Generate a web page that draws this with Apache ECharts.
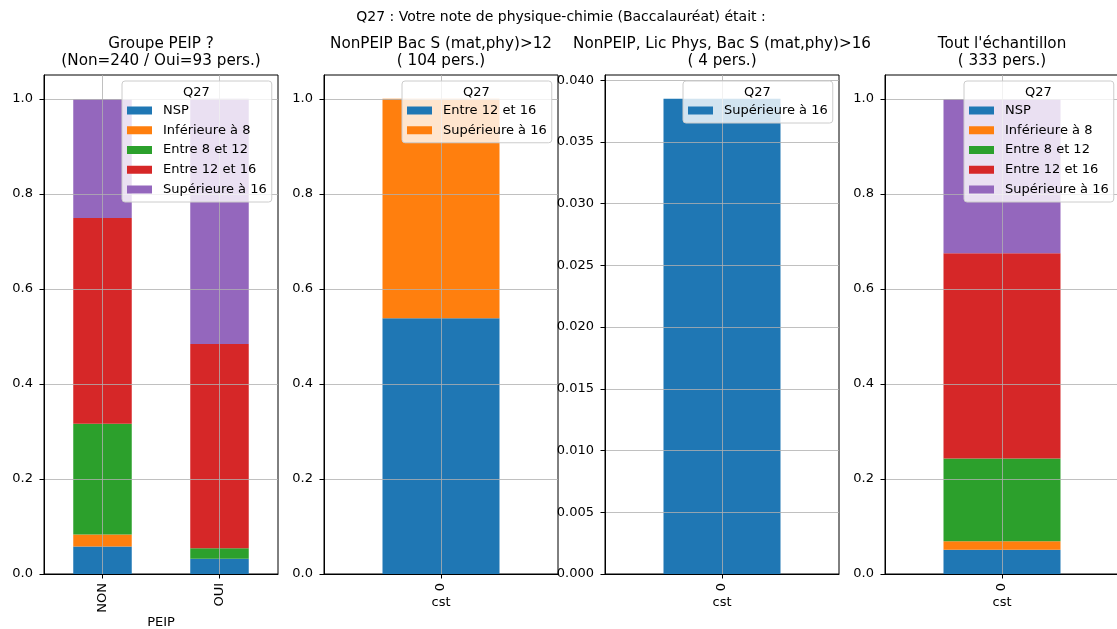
<!DOCTYPE html>
<html>
<head>
<meta charset="utf-8">
<script src="https://cdn.jsdelivr.net/npm/echarts@6/dist/echarts.min.js"></script>
<style>
html,body{margin:0;padding:0;background:#fff;}
#chart{width:1117px;height:629px;}
</style>
</head>
<body>
<div id="chart"></div>
<script>
// ---- DATA ----
const mainTitle = "Q27 : Votre note de physique-chimie (Baccalauréat) était :";
const legendTitle = "Q27";
const gradeNames = ["NSP", "Inférieure à 8", "Entre 8 et 12", "Entre 12 et 16", "Supérieure à 16"];

const peipCategories = ["NON", "OUI"];
const cstCategories = ["0"];

// Panel 1 : Groupe PEIP
const p1NSP   = [0.058, 0.032];
const p1Inf8  = [0.025, 0.000];
const p1E8_12 = [0.233, 0.022];
const p1E12_16 = [0.433, 0.430];
const p1Sup16 = [0.250, 0.516];

// Panel 2 : NonPEIP Bac S (mat,phy)>12
const p2E12_16 = [0.538];
const p2Sup16 = [0.462];

// Panel 3 : NonPEIP, Lic Phys, Bac S (mat,phy)>16
const p3Sup16 = [0.0385];

// Panel 4 : Tout l'échantillon
const p4NSP   = [0.051];
const p4Inf8  = [0.018];
const p4E8_12 = [0.174];
const p4E12_16 = [0.432];
const p4Sup16 = [0.324];

const yTicksShare = [0, 0.2, 0.4, 0.6, 0.8, 1.0];
const yTicksSmall = [0, 0.005, 0.010, 0.015, 0.020, 0.025, 0.030, 0.035, 0.040];

// ---- STYLE ----
const colors = ["#1f77b4", "#ff7f0e", "#2ca02c", "#d62728", "#9467bd"];
const FONT = "DejaVu Sans";
const gridColor = "#b0b0b0";

const panels = [
  {
    title: "Groupe PEIP ?\n(Non=240 / Oui=93 pers.)",
    cats: peipCategories, xName: "PEIP", nameGap: 42,
    series: [
      [gradeNames[0], p1NSP], [gradeNames[1], p1Inf8], [gradeNames[2], p1E8_12],
      [gradeNames[3], p1E12_16], [gradeNames[4], p1Sup16]
    ],
    ticks: yTicksShare, interval: 0.2, decimals: 1,
    left: 44, legendLeft: 122
  },
  {
    title: "NonPEIP Bac S (mat,phy)>12\n( 104 pers.)",
    cats: cstCategories, xName: "cst", nameGap: 22,
    series: [[gradeNames[3], p2E12_16], [gradeNames[4], p2Sup16]],
    ticks: yTicksShare, interval: 0.2, decimals: 1,
    left: 324, legendLeft: 402
  },
  {
    title: "NonPEIP, Lic Phys, Bac S (mat,phy)>16\n( 4 pers.)",
    cats: cstCategories, xName: "cst", nameGap: 22,
    series: [[gradeNames[4], p3Sup16]],
    ticks: yTicksSmall, interval: 0.005, decimals: 3,
    left: 605, legendLeft: 683
  },
  {
    title: "Tout l'échantillon\n( 333 pers.)",
    cats: cstCategories, xName: "cst", nameGap: 22,
    series: [
      [gradeNames[0], p4NSP], [gradeNames[1], p4Inf8], [gradeNames[2], p4E8_12],
      [gradeNames[3], p4E12_16], [gradeNames[4], p4Sup16]
    ],
    ticks: yTicksShare, interval: 0.2, decimals: 1,
    left: 885, legendLeft: 964
  }
];

const W = 234, TOP = 75, H = 499, LEGW = 149;

const option = {
  animation: false,
  textStyle: { fontFamily: FONT },
  title: [], grid: [], xAxis: [], yAxis: [], legend: [], series: []
};

option.title.push({
  text: mainTitle, left: 561, top: 10, textAlign: "center", padding: 0,
  textStyle: { fontFamily: FONT, fontSize: 14, fontWeight: "normal", color: "#000" }
});

panels.forEach((p, i) => {
  const n = p.cats.length;
  let maxTotal = 0;
  for (let k = 0; k < n; k++) {
    let s = 0; p.series.forEach(sr => s += sr[1][k]); maxTotal = Math.max(maxTotal, s);
  }
  const yMax = (p.decimals === 1 ? 1 : maxTotal) * 1.05;

  option.title.push({
    text: p.title, left: p.left + W / 2, top: 36, textAlign: "center", padding: 0,
    textStyle: { fontFamily: FONT, fontSize: 15.2, fontWeight: "normal", color: "#000", lineHeight: 17 }
  });
  option.title.push({
    text: legendTitle, left: p.legendLeft + LEGW / 2, top: 86, textAlign: "center", z: 12, padding: 0,
    textStyle: { fontFamily: FONT, fontSize: 13, fontWeight: "normal", color: "#000" }
  });

  option.grid.push({
    left: p.left, top: TOP, width: W, height: H, outerBoundsMode: "none", containLabel: false,
    show: true, borderColor: "#000", borderWidth: 1, backgroundColor: "transparent"
  });
  option.xAxis.push({
    type: "category", gridIndex: i, data: p.cats, z: 6,
    name: p.xName, nameLocation: "middle", nameGap: p.nameGap, nameMoveOverlap: false,
    nameTextStyle: { fontFamily: FONT, fontSize: 13, color: "#000", verticalAlign: "top" },
    axisLine: { show: true, lineStyle: { color: "#000", width: 1 } },
    axisTick: { show: true, alignWithLabel: true, length: 4.5, lineStyle: { color: "#000" } },
    axisLabel: { rotate: 90, margin: 9, fontFamily: FONT, fontSize: 13, color: "#000" },
    splitLine: { show: false }
  });
  option.yAxis.push({
    type: "value", gridIndex: i, min: 0, max: yMax, interval: p.interval, z: 6,
    axisLine: { show: true, lineStyle: { color: "#000", width: 1 } },
    axisTick: { show: true, length: 4.5, lineStyle: { color: "#000" }, customValues: p.ticks },
    axisLabel: {
      margin: 11, fontFamily: FONT, fontSize: 13, color: "#000",
      customValues: p.ticks,
      formatter: v => v.toFixed(p.decimals)
    },
    splitLine: { show: true, lineStyle: { color: gridColor, width: 0.8 } }
  });

  const names = [];
  p.series.forEach((sr, j) => {
    const sname = "p" + i + "|" + sr[0];
    names.push(sname);
    const s = {
      type: "bar", name: sname, stack: "s" + i,
      xAxisIndex: i, yAxisIndex: i, data: sr[1],
      barWidth: "50%", itemStyle: { color: colors[j] },
      emphasis: { disabled: true }
    };
    if (j === p.series.length - 1) {
      s.markLine = {
        silent: true, symbol: ["none", "none"], label: { show: false }, z: 5,
        lineStyle: { color: gridColor, width: 0.8, type: "solid" },
        data: p.cats.map(c => ({ xAxis: c }))
      };
    }
    option.series.push(s);
  });

  option.legend.push({
    data: names, orient: "vertical", left: p.legendLeft, top: 81,
    padding: [22, 5, 5, 5], itemGap: 4.75, itemWidth: 25, itemHeight: 8,
    icon: "rect", z: 10, selectedMode: false,
    backgroundColor: "rgba(255,255,255,0.8)", borderColor: "#cccccc", borderWidth: 1, borderRadius: 3,
    formatter: nm => nm.split("|")[1],
    textStyle: { fontFamily: FONT, fontSize: 13, color: "#000", lineHeight: 15, padding: [0, 0, 0, 6] }
  });
});

const chart = echarts.init(document.getElementById("chart"), null, { renderer: "canvas" });
chart.setOption(option);
</script>
</body>
</html>
